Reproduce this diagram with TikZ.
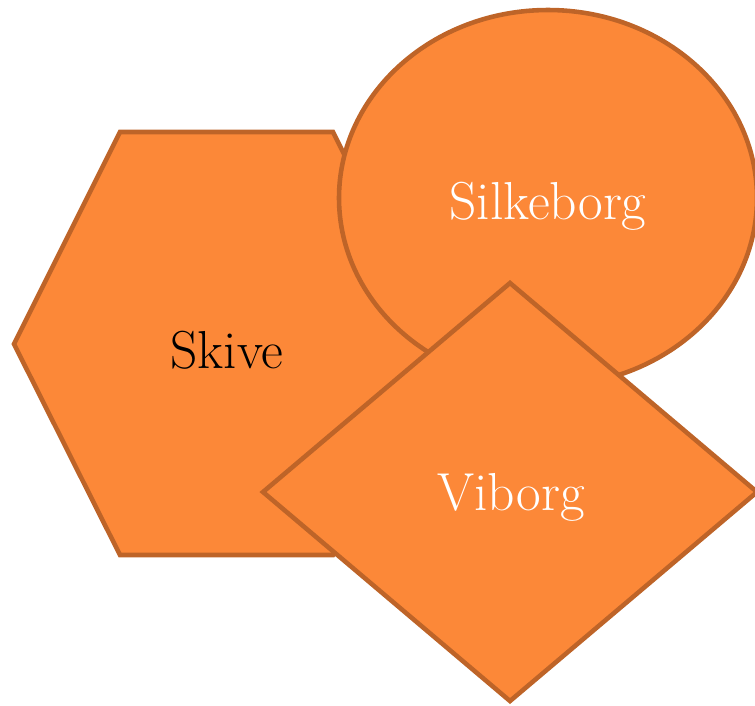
\documentclass[tikz,border=0pt]{standalone}
\usepackage{fontspec}
\usepackage{xcolor}
\usepackage{tikz}
\usetikzlibrary{positioning}

\definecolor{cityfill}{RGB}{252,136,56}
\definecolor{cityline}{RGB}{190,100,40}

\begin{document}
\begin{tikzpicture}[x=0.01cm, y=-0.01cm,
  city/.style={fill=cityfill, draw=cityline, line width=1.3pt, line join=miter},
  citylabel/.style={font=\fontsize{15.2}{18}\selectfont}]

% Fix the frame of the picture
\useasboundingbox (0,0) rectangle (755,705);

% Skive: the stretched hexagon
\coordinate (skivec) at (227,350);
\draw[city] (14,344) -- (120,132) -- (333,132) -- (439,344) -- (333,555) -- (120,555) -- cycle;
\node[citylabel, text=black] (skive) at (skivec) {Skive};

% Silkeborg: the ellipse, drawn over the hexagon
\coordinate (silkec) at (548,198);
\draw[city] (silkec) ellipse (209 and 188);
\node[citylabel, text=white] (silkeborg) at ([yshift=-0.08cm]silkec) {Silkeborg};

% Viborg: the diamond, drawn last
\coordinate (viborgc) at (511,497);
\draw[city] (510,283) -- (757,492) -- (510,701) -- (263,492) -- cycle;
\node[citylabel, text=white] (viborg) at (viborgc) {Viborg};

\end{tikzpicture}
\end{document}
